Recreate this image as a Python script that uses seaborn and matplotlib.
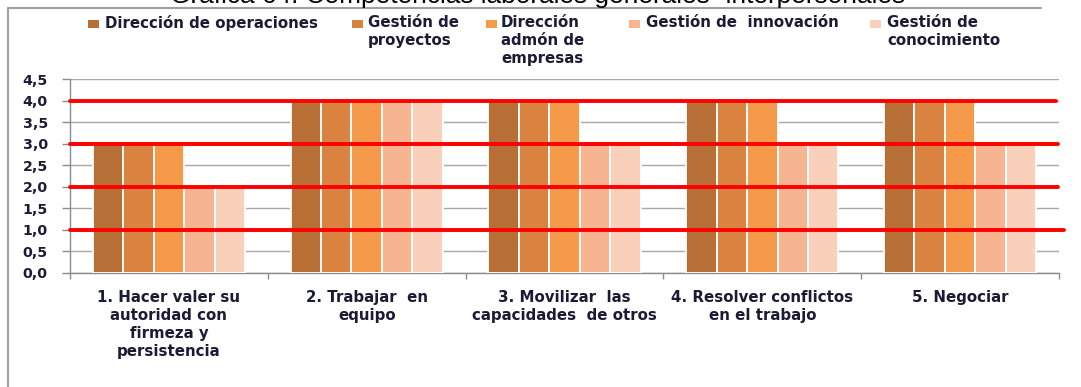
import matplotlib
matplotlib.use("Agg")
import matplotlib.pyplot as plt
import seaborn as sns
import pandas as pd
from matplotlib.patches import Rectangle
from matplotlib.lines import Line2D

# ---------------- data ----------------
categories = [
    "1. Hacer valer su\nautoridad con\nfirmeza y\npersistencia",
    "2. Trabajar  en\nequipo",
    "3. Movilizar  las\ncapacidades  de otros",
    "4. Resolver conflictos\nen el trabajo",
    "5. Negociar",
]
series = [
    "Dirección de operaciones",
    "Gestión de\nproyectos",
    "Dirección\nadmón de\nempresas",
    "Gestión de  innovación",
    "Gestión de\nconocimiento",
]
dir_operaciones = [3, 4, 4, 4, 4]
gest_proyectos = [3, 4, 4, 4, 4]
dir_admon_empresas = [3, 4, 4, 4, 4]
gest_innovacion = [2, 4, 3, 3, 3]
gest_conocimiento = [2, 4, 3, 3, 3]
colors = ["#B86F36", "#DA8341", "#F59A4B", "#F7B490", "#FAD0BA"]
ref_lines = [4.0, 3.0, 2.0, 1.0]
ref_line_xmax = [0.997, 0.999, 0.999, 1.005]
yticks = [0.0, 0.5, 1.0, 1.5, 2.0, 2.5, 3.0, 3.5, 4.0, 4.5]
title = "Gráfica 64. Competencias laborales generales- interpersonales"

values = [dir_operaciones, gest_proyectos, dir_admon_empresas, gest_innovacion, gest_conocimiento]
rows = []
for s, vals in zip(series, values):
    for c, v in zip(categories, vals):
        rows.append({"cat": c, "serie": s, "valor": v})
df = pd.DataFrame(rows)

# ---------------- figure ----------------
sns.set_style("white")
plt.rcParams["font.family"] = ["DejaVu Sans"]
W, H = 1081, 387
fig = plt.figure(figsize=(W / 100, H / 100), dpi=100)
ax = fig.add_axes([70 / W, 1 - 273 / H, (1059 - 70) / W, (273 - 79) / H])

txt_color = "#1B1B35"
fs = 10.8

sns.barplot(data=df, x="cat", y="valor", hue="serie", order=categories,
            hue_order=series, palette=colors, width=0.77, gap=0,
            edgecolor="white", linewidth=1.3, saturation=1, legend=False,
            ax=ax, zorder=3)

ax.set_xlim(-0.5, len(categories) - 0.5)
ax.set_ylim(0, 4.5)
ax.set_yticks(yticks)
ax.set_yticklabels([f"{t:.1f}".replace(".", ",") for t in yticks],
                   fontsize=10.2, fontweight="bold", color=txt_color)
ax.yaxis.grid(True, color="#A8A8A8", linewidth=1.0, zorder=0)
ax.set_axisbelow(True)
ax.tick_params(axis="y", direction="out", length=6, width=1, color="#8C8C8C",
               left=True, pad=10)

# x: ticks at group boundaries, labels at centres
ax.set_xticks([i - 0.5 for i in range(len(categories) + 1)])
ax.set_xticklabels([])
ax.set_xticks(range(len(categories)), minor=True)
ax.set_xticklabels(categories, minor=True, fontsize=fs, fontweight="bold",
                   color=txt_color, linespacing=1.27, va="top")
ax.tick_params(axis="x", which="major", direction="out", length=4, width=1,
               color="#8C8C8C", bottom=True)
ax.tick_params(axis="x", which="minor", length=0, pad=12)
ax.set_xlabel("")
ax.set_ylabel("")

for sp in ["top", "right"]:
    ax.spines[sp].set_visible(False)
for sp in ["left", "bottom"]:
    ax.spines[sp].set_color("#8C8C8C")
    ax.spines[sp].set_linewidth(1.0)

for y, xm in zip(ref_lines, ref_line_xmax):
    ax.axhline(y, xmin=0, xmax=xm, color="#FF0000", linewidth=2.8,
               zorder=6, clip_on=False)

# ---------------- frame ----------------
frame_col = "#A0A0A0"
fig.add_artist(Line2D([8 / W, 1041 / W], [1 - 8 / H, 1 - 8 / H],
                      transform=fig.transFigure, color=frame_col, lw=1.5))
fig.add_artist(Line2D([8 / W, 8 / W], [1 - 8 / H, 0],
                      transform=fig.transFigure, color=frame_col, lw=1.5))

# ---------------- title (clipped at top) ----------------
t = fig.text(170 / W, 1 - 3 / H, title, fontsize=14, family="Liberation Sans",
             va="baseline", ha="left", color="#000000")
r = fig.canvas.get_renderer()
w = t.get_window_extent(r).width
t.set_fontsize(14 * (912 - 170) / w)

# ---------------- legend (manual) ----------------
leg_pos = [(88, 105), (352, 368), (486, 501), (629, 646), (870, 887)]
for (mx, tx), s, c in zip(leg_pos, series, colors):
    fig.add_artist(Rectangle((mx / W, 1 - 28 / H), 11 / W, 8 / H,
                             transform=fig.transFigure, facecolor=c,
                             edgecolor="none"))
    fig.text(tx / W, 1 - 15 / H, s, fontsize=fs, fontweight="bold",
             color=txt_color, va="top", ha="left", linespacing=1.27)

fig.savefig("out.png", dpi=100)
